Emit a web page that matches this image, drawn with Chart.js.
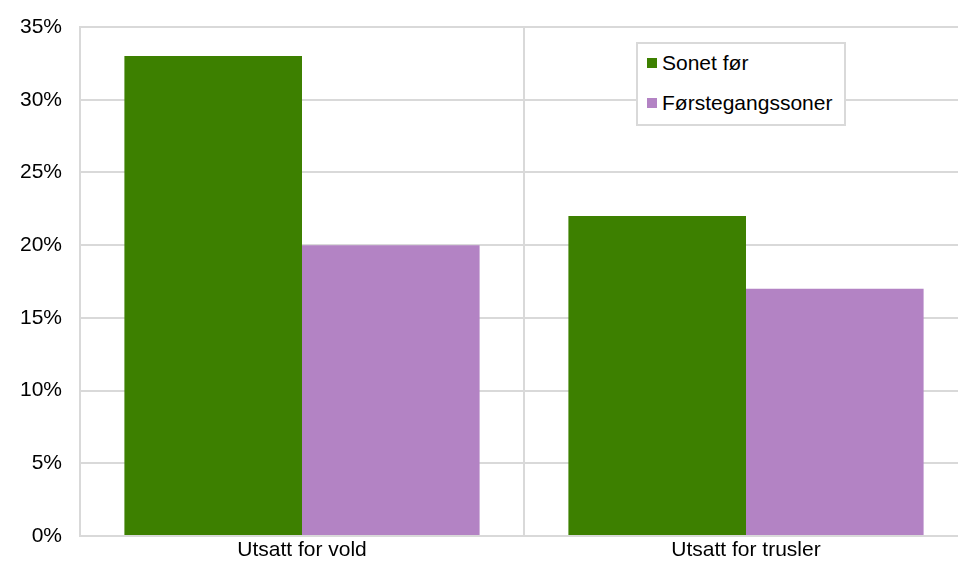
<!DOCTYPE html>
<html>
<head>
<meta charset="utf-8">
<script src="https://cdn.jsdelivr.net/npm/chart.js@4"></script>
<style>
  html, body { margin: 0; padding: 0; background: #fff; overflow: hidden; }
  #wrap { position: relative; width: 970px; height: 563px; }
  #legend {
    position: absolute; left: 636px; top: 42px; width: 206px; height: 80px;
    border: 2px solid #d9d9d9; background: #fff;
    font-family: "Liberation Sans", Arial, sans-serif; font-size: 21px; color: #000;
  }
  .item { position: absolute; left: 9px; height: 20px; display: flex; align-items: center; white-space: nowrap; }
  .item span.box { display: inline-block; width: 10px; height: 10px; margin-right: 5px; }
</style>
</head>
<body>
<div id="wrap">
  <canvas id="myChart" width="968" height="563"></canvas>
  <div id="legend"></div>
</div>
<script>
// categories and series
var categories = ['Utsatt for vold', 'Utsatt for trusler'];
var sonetFor = [33, 22];
var forstegang = [20, 17];
var seriesNames = ['Sonet før', 'Førstegangssoner'];
var seriesColors = ['#3d8000', '#b383c4'];

Chart.defaults.font.family = '"Liberation Sans", Arial, sans-serif';
Chart.defaults.font.size = 21;
Chart.defaults.color = '#000';

var ctx = document.getElementById('myChart').getContext('2d');
var myChart = new Chart(ctx, {
    type: 'bar',
    data: {
        labels: categories,
        datasets: [{
            label: seriesNames[0],
            data: sonetFor,
            backgroundColor: seriesColors[0],
            borderWidth: 0,
        }, {
            label: seriesNames[1],
            data: forstegang,
            backgroundColor: seriesColors[1],
            borderWidth: 0,
        }],
    },
    options: {
        responsive: false,
        animation: false,
        layout: { padding: { top: 27, left: 0, right: 0, bottom: 0 } },
        plugins: { legend: { display: false }, tooltip: { enabled: false } },
        datasets: { bar: { categoryPercentage: 0.8, barPercentage: 1.0 } },
        scales: {
            y: {
                min: 0, max: 35,
                ticks: { stepSize: 5, padding: 18, callback: function(v) { return v + '%'; } },
                grid: { color: '#d9d9d9', lineWidth: 2, drawTicks: false },
                border: { color: '#d9d9d9', width: 2 },
                afterFit: function(scale) {
                    scale.width = 80;
                    scale.paddingTop = 0;
                    scale.paddingBottom = 0;
                }
            },
            x: {
                ticks: { padding: 2 },
                grid: { color: '#d9d9d9', lineWidth: 2, drawTicks: false, offset: true },
                border: { color: '#d9d9d9', width: 2 },
                afterFit: function(scale) {
                    scale.height = 27;
                    scale.paddingLeft = 0;
                    scale.paddingRight = 0;
                }
            }
        }
    },
});

// build the legend from the datasets
var legend = document.getElementById('legend');
myChart.data.datasets.forEach(function(ds, i) {
    var div = document.createElement('div');
    div.className = 'item';
    div.style.top = (i === 0 ? 9 : 49) + 'px';
    div.innerHTML = '<span class="box" style="background:' + ds.backgroundColor + '"></span>' + ds.label;
    legend.appendChild(div);
});
</script>
</body>
</html>
